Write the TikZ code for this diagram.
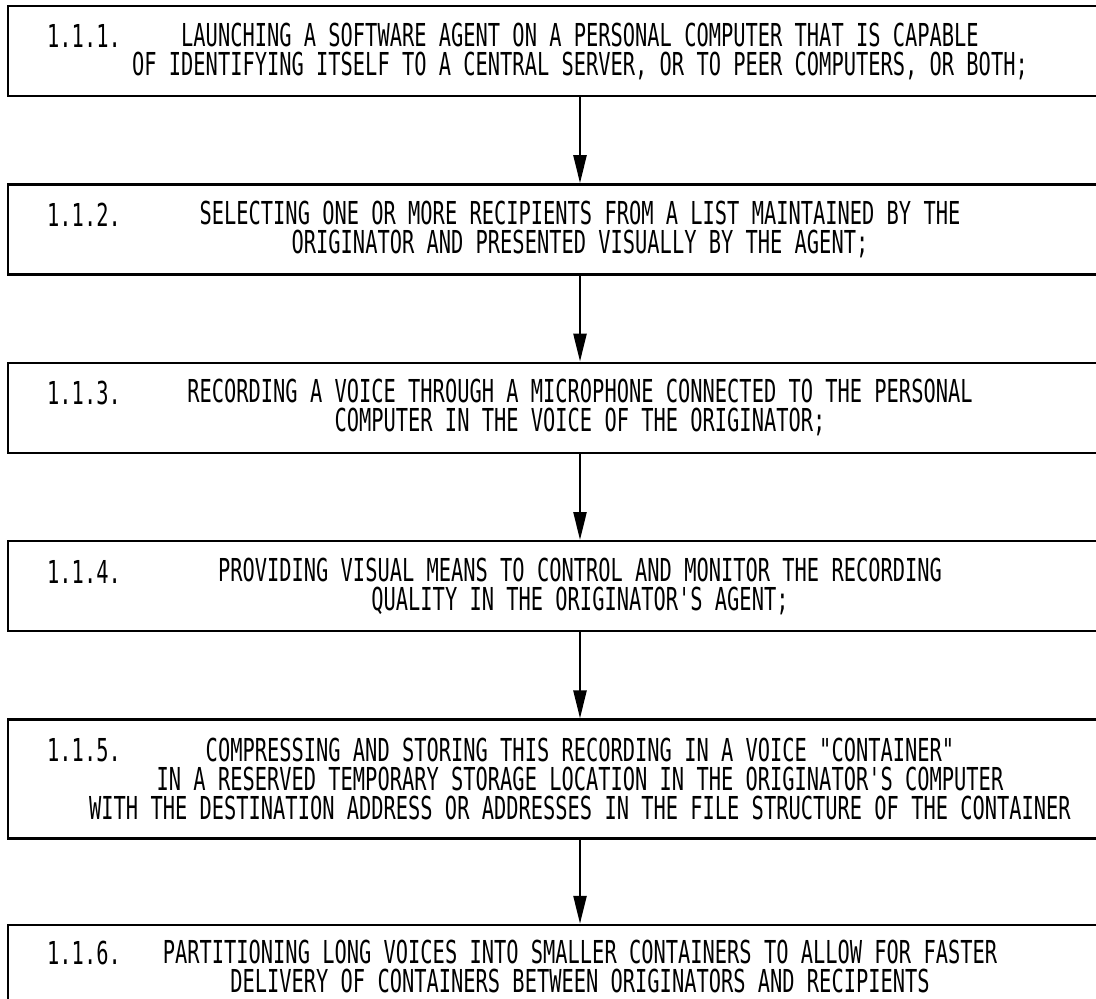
\documentclass[tikz,border=0pt]{standalone}
\usepackage{fontspec}
\newfontfamily\patfont[FakeStretch=0.645]{DejaVu Sans Mono}
\usetikzlibrary{positioning, arrows.meta}

\begin{document}
\begin{tikzpicture}[
  x=0.5pt, y=0.5pt,
  node distance=43pt,
  stepbox/.style={draw, line width=1.2pt, align=center, inner sep=0pt,
                  minimum width=572pt, minimum height=45pt,
                  font=\patfont\fontsize{15.8}{14.5}\selectfont},
  num/.style={anchor=base west, inner sep=0pt,
              font=\patfont\fontsize{15.8}{14.5}\selectfont},
  arr/.style={-{Triangle[length=14pt, width=6.5pt]}, line width=1.2pt}
]
\useasboundingbox (0,0) rectangle (1096,-999);
\clip (0,0) rectangle (1096,-999);
\node[stepbox] (launch) at (580,-51) {LAUNCHING A SOFTWARE AGENT ON A PERSONAL COMPUTER THAT IS CAPABLE\\
  OF IDENTIFYING ITSELF TO A CENTRAL SERVER, OR TO PEER COMPUTERS, OR BOTH;};
\node[stepbox, below=of launch] (select) {SELECTING ONE OR MORE RECIPIENTS FROM A LIST MAINTAINED BY THE\\
  ORIGINATOR AND PRESENTED VISUALLY BY THE AGENT;};
\node[stepbox, below=of select] (record) {RECORDING A VOICE THROUGH A MICROPHONE CONNECTED TO THE PERSONAL\\
  COMPUTER IN THE VOICE OF THE ORIGINATOR;};
\node[stepbox, below=of record] (monitor) {PROVIDING VISUAL MEANS TO CONTROL AND MONITOR THE RECORDING\\
  QUALITY IN THE ORIGINATOR'S AGENT;};
\node[stepbox, below=of monitor, minimum height=59.5pt] (store) {COMPRESSING AND STORING THIS RECORDING IN A VOICE "CONTAINER"\\
  IN A RESERVED TEMPORARY STORAGE LOCATION IN THE ORIGINATOR'S COMPUTER\\
  WITH THE DESTINATION ADDRESS OR ADDRESSES IN THE FILE STRUCTURE OF THE CONTAINER};
\node[stepbox, below=42pt of store, minimum height=41pt] (split) {PARTITIONING LONG VOICES INTO SMALLER CONTAINERS TO ALLOW FOR FASTER\\
  DELIVERY OF CONTAINERS BETWEEN ORIGINATORS AND RECIPIENTS};
% step numbers
\node[num] (n1) at ([shift={(40,-43)}]launch.north west) {1.1.1.};
\node[num] (n2) at ([shift={(40,-43)}]select.north west) {1.1.2.};
\node[num] (n3) at ([shift={(40,-43)}]record.north west) {1.1.3.};
\node[num] (n4) at ([shift={(40,-43)}]monitor.north west) {1.1.4.};
\node[num] (n5) at ([shift={(40,-43)}]store.north west) {1.1.5.};
\node[num] (n6) at ([shift={(40,-41)}]split.north west) {1.1.6.};
\draw[arr] (launch) -- (select);
\draw[arr] (select) -- (record);
\draw[arr] (record) -- (monitor);
\draw[arr] (monitor) -- (store);
\draw[arr] (store) -- (split);
\end{tikzpicture}
\end{document}
